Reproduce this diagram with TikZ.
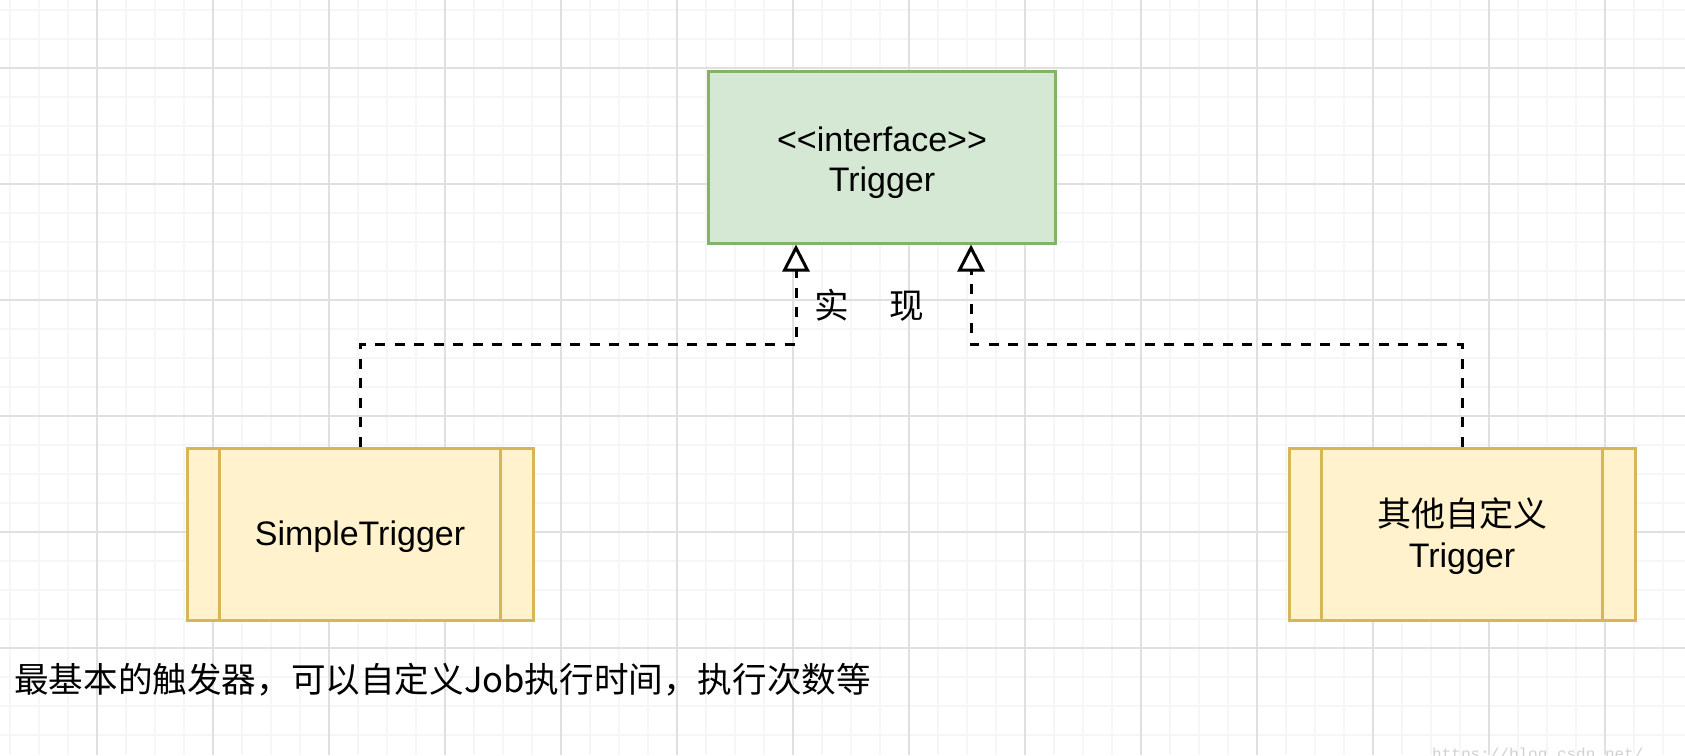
\documentclass[tikz,border=0pt]{standalone}
\usepackage{fontspec}
\setmainfont{Liberation Sans}
\setmonofont{Liberation Mono}
\newfontfamily\cjk{Noto Sans CJK SC}
\usepackage{tikz}
\usetikzlibrary{arrows.meta}
\usetikzlibrary{positioning}

\definecolor{iface_fill}{HTML}{D5E8D4}
\definecolor{iface_line}{HTML}{82B366}
\definecolor{impl_fill}{HTML}{FFF2CC}
\definecolor{impl_line}{HTML}{D6B656}
\definecolor{grid_minor}{HTML}{F6F6F6}
\definecolor{grid_major}{HTML}{E0E0E0}

% text block, lowered a little inside its box
\newcommand{\boxtext}[2]{\raisebox{-#1}[\height][\depth]{\begin{tabular}{@{}c@{}}#2\end{tabular}}}

\begin{document}
\begin{tikzpicture}[x=1pt,y=-1pt,
	iface_node/.style={rectangle,fill=iface_fill,draw=iface_line,line width=3pt,minimum width=347pt,minimum height=172pt,inner sep=0pt,align=center,font=\fontsize{34}{40}\selectfont},
	impl_node/.style={rectangle,fill=impl_fill,draw=impl_line,line width=3pt,minimum width=346pt,minimum height=172pt,inner sep=0pt,align=center,font=\fontsize{34}{41}\selectfont},
	impl_bar/.style={draw=impl_line,line width=3pt},
	realize_edge/.style={line width=3pt,dash pattern=on 10pt off 9.5pt,-{Triangle[length=27pt,width=27pt,fill=white]}},
	text_node/.style={inner sep=0pt,font=\cjk\fontsize{34.6}{40}\selectfont}]
				
				% background and grid
				\fill[white] (0,0) rectangle (1685,755);
				\useasboundingbox (0,0) rectangle (1685,755);
				\foreach \k in {0,...,57} \draw[grid_minor,line width=1.5pt] (10+29*\k,0) -- (10+29*\k,755);
				\foreach \k in {0,...,25} \draw[grid_minor,line width=1.5pt] (0,10+29*\k) -- (1685,10+29*\k);
				\foreach \k in {0,...,13} \draw[grid_major,line width=1.5pt] (97+116*\k,0) -- (97+116*\k,755);
				\foreach \k in {0,...,5} \draw[grid_major,line width=1.5pt] (0,68+116*\k) -- (1685,68+116*\k);
				
				\node[iface_node] (1) at (882, 157) {\boxtext{6pt}{<\kern0pt<interface>\kern0pt>\\Trigger}};
				\node[impl_node] (2) at (360, 534) {\boxtext{3pt}{SimpleTrigger}};
				\node[impl_node] (3) at (1462, 534) {\boxtext{5pt}{{\cjk 其他自定义}\\Trigger}};
				
				\draw[impl_bar] ([xshift=34pt]2.north west) -- ([xshift=34pt]2.south west);
				\draw[impl_bar] ([xshift=-34pt]2.north east) -- ([xshift=-34pt]2.south east);
				\draw[impl_bar] ([xshift=34pt]3.north west) -- ([xshift=34pt]3.south west);
				\draw[impl_bar] ([xshift=-34pt]3.north east) -- ([xshift=-34pt]3.south east);
				
				\draw[realize_edge] (2.north) -- ++(0,-102) -| ([xshift=-86pt]1.south);
				\draw[realize_edge] (3.north) -- ++(0,-102) -| ([xshift=89pt]1.south);
				
				\node[text_node] (4) at (869, 305) {实\hspace{40pt}现};
				\node[text_node, anchor=west] (5) at (14, 680) {最基本的触发器，可以自定义Job执行时间，执行次数等};
				\node[inner sep=0pt, anchor=base west, text=black!18, font=\ttfamily\fontsize{16}{16}\selectfont] (6) at (1432, 759) {https://blog.csdn.net/};
			\end{tikzpicture}
\end{document}
